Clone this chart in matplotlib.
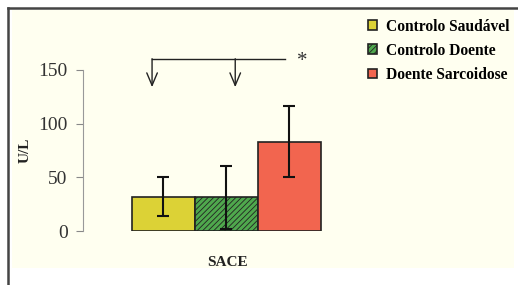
import matplotlib
matplotlib.use("Agg")
import matplotlib.pyplot as plt
from matplotlib.patches import Rectangle, Patch
from matplotlib.lines import Line2D

# data
groups = ["Controlo Saudável", "Controlo Doente", "Doente Sarcoidose"]
means = [32, 31.5, 83]
err_low = [14, 1.5, 50.5]
err_high = [50, 61, 116.5]
colors = ["#dcd236", "#4fa84d", "#f2654f"]
hatches = ["", "//////", ""]
yticks = [0, 50, 100, 150]

W, H = 518, 285
plt.rcParams["font.family"] = ["Liberation Serif", "DejaVu Serif"]
plt.rcParams["hatch.color"] = "#3b8d3b"
plt.rcParams["hatch.linewidth"] = 0.6

fig = plt.figure(figsize=(W / 100, H / 100), dpi=100)
fig.patch.set_facecolor("white")

def fx(px):
    return px / W

def fy(py):
    return 1 - py / H

# cream panel and dark frame lines
fig.patches.append(Rectangle((fx(12), fy(268)), fx(502), (258) / H,
                             transform=fig.transFigure, facecolor="#fffff0",
                             edgecolor="none", zorder=-5))
fig.add_artist(Line2D([fx(7.5), fx(7.5)], [fy(8), fy(290)], transform=fig.transFigure,
                      color="#444444", lw=1.8))
fig.add_artist(Line2D([fx(7.5), fx(520)], [fy(8), fy(8)], transform=fig.transFigure,
                      color="#444444", lw=1.8))

# axes: y 0..150 maps to 231..70 px
ax = fig.add_axes([fx(83), fy(231), fx(330 - 83), 161 / H])
ax.set_facecolor("none")
x = list(range(len(groups)))
lower = [m - lo for m, lo in zip(means, err_low)]
upper = [hi - m for m, hi in zip(means, err_high)]
bars = ax.bar(x, means, width=1.0, color=colors, edgecolor="#222222", linewidth=1.2,
              yerr=[lower, upper], capsize=4,
              error_kw=dict(ecolor="#111111", elinewidth=1.5, capthick=1.5), zorder=2)
for b, h in zip(bars, hatches):
    b.set_hatch(h)

ax.set_xlim(-1.276, 2.644)
ax.set_ylim(0, 150)
ax.set_yticks(yticks)
ax.tick_params(axis="y", labelsize=14, labelcolor="#333333", color="#888888",
               length=5, width=0.8, pad=6)
ax.set_xticks([])
for s in ["top", "right", "bottom"]:
    ax.spines[s].set_visible(False)
ax.spines["left"].set_color("#999999")
ax.spines["left"].set_linewidth(0.8)

# significance bracket
ax.plot([-0.18, 1.93], [160, 160], color="#222222", lw=1.0, clip_on=False)
for xa in [-0.18, 1.14]:
    ax.annotate("", xy=(xa, 134), xytext=(xa, 160.5), xycoords="data",
                arrowprops=dict(arrowstyle="->,head_length=0.9,head_width=0.38",
                                color="#222222", lw=1.0, shrinkA=0, shrinkB=0),
                annotation_clip=False)
ax.text(2.21, 158, "*", fontsize=15, ha="center", va="center", color="#333333",
        clip_on=False)

# labels
fig.text(fx(227), fy(262), "SACE", fontsize=11, fontweight="bold", ha="center",
         va="center", color="#222222")
fig.text(fx(25), fy(150), "U/L", fontsize=11, fontweight="bold", rotation=90,
         ha="center", va="center", color="#222222")

# legend
handles = [Patch(facecolor=c, edgecolor="#222222", hatch=h, linewidth=1.2)
           for c, h in zip(colors, hatches)]
fig.legend(handles, groups, loc="upper left", bbox_to_anchor=(fx(360), fy(11)),
           frameon=False, handlelength=0.6, handleheight=0.6, handletextpad=0.6,
           labelspacing=0.52, borderpad=0,
           prop=dict(family=["Liberation Serif"], weight="bold", size=11.2))

fig.savefig("out.png", dpi=100)
